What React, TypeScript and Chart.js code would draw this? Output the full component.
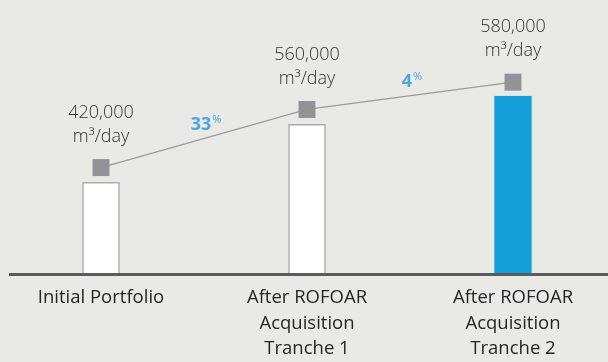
import React, { useEffect, useRef } from 'react';
import { Chart, registerables } from 'chart.js';

Chart.register(...registerables);

// ---- data ----
const categories: (string | string[])[] = [
  'Initial Portfolio',
  ['After ROFOAR', 'Acquisition', 'Tranche 1'],
  ['After ROFOAR', 'Acquisition', 'Tranche 2'],
];
const capacities = [420000, 560000, 580000];
const capacityUnit = 'm³/day';
// relative heights (stylised chart, no visible value axis; scale 0-100)
const barHeights = [33.2, 54.5, 64.8];
const markerHeights = [38.6, 59.9, 69.9];
const barColors = ['#ffffff', '#ffffff', '#159fd9'];
const barBorderColors = ['#acacac', '#acacac', '#159fd9'];

const FONT = '"Open Sans", "Noto Sans", sans-serif';

const overlayPlugin = {
  id: 'overlay',
  beforeDatasetsDraw(chart: any) {
    const { ctx, chartArea } = chart;
    ctx.save();
    ctx.fillStyle = '#5b5b5b';
    ctx.fillRect(11, chartArea.bottom, 620 - 11, 3);
    ctx.restore();
  },
  afterDatasetsDraw(chart: any) {
    const { ctx } = chart;
    const meta = chart.getDatasetMeta(1);
    const pts = meta.data;
    ctx.save();
    // value labels
    ctx.fillStyle = '#333333';
    ctx.textAlign = 'center';
    ctx.textBaseline = 'middle';
    ctx.font = `300 18px ${FONT}`;
    pts.forEach((p: any, i: number) => {
      ctx.fillText(capacityUnit, p.x, p.y - 31);
      ctx.fillText(capacities[i].toLocaleString('en-US'), p.x, p.y - 55);
    });
    // growth labels
    for (let i = 1; i < pts.length; i++) {
      const g = Math.round((capacities[i] / capacities[i - 1] - 1) * 100);
      const numTxt = String(g);
      const mx = (pts[i - 1].x + pts[i].x) / 2 + 2;
      const my = (pts[i - 1].y + pts[i].y) / 2 - 14;
      ctx.font = `bold 18px ${FONT}`;
      const w1 = ctx.measureText(numTxt).width;
      ctx.font = `11px ${FONT}`;
      const w2 = ctx.measureText('%').width;
      const x0 = mx - (w1 + w2 + 1) / 2;
      ctx.fillStyle = '#4ba6e0';
      ctx.textAlign = 'left';
      ctx.font = `bold 18px ${FONT}`;
      ctx.fillText(numTxt, x0, my);
      ctx.font = `11px ${FONT}`;
      ctx.fillText('%', x0 + w1 + 1, my - 5);
    }
    ctx.restore();
  },
};

export default function App() {
  const ref = useRef<HTMLCanvasElement | null>(null);
  useEffect(() => {
    if (!ref.current) return;
    const chart = new Chart(ref.current, {
      type: 'bar',
      data: {
        labels: categories as any,
        datasets: [
          {
            type: 'bar',
            data: barHeights,
            backgroundColor: barColors,
            borderColor: barBorderColors,
            borderWidth: { top: 1.5, left: 1.5, right: 1.5, bottom: 0 },
            borderSkipped: 'bottom',
            barThickness: 37,
            order: 1,
          },
          {
            type: 'line',
            data: markerHeights,
            borderColor: '#9b9b9f',
            borderWidth: 1.3,
            pointStyle: 'rect',
            pointRadius: 12,
            pointHoverRadius: 12,
            pointBackgroundColor: '#939397',
            pointBorderWidth: 0,
            order: 0,
          } as any,
        ],
      },
      options: {
        animation: false,
        responsive: false,
        devicePixelRatio: 1,
        layout: { autoPadding: false, padding: { left: 0, right: 2, top: 0, bottom: -12 } },
        plugins: { legend: { display: false }, tooltip: { enabled: false } },
        scales: {
          x: {
            offset: true,
            grid: { display: false, drawTicks: false, tickLength: 0 },
            border: { display: false },
            ticks: {
              color: '#262626',
              padding: 12.25,
              maxRotation: 0,
              autoSkip: false,
              font: { family: FONT, size: 18.5, lineHeight: '25.5px' as any },
            },
          },
          y: { display: false, min: 0, max: 100 },
        },
      },
      plugins: [overlayPlugin],
    });
    return () => chart.destroy();
  }, []);
  return (
    <div
      style={{
        position: 'fixed',
        left: 0,
        top: 0,
        width: 608,
        height: 362,
        background: '#e9e9e5',
        overflow: 'hidden',
      }}
    >
      <canvas ref={ref} width={620} height={362} style={{ display: 'block', marginLeft: -2 }} />
    </div>
  );
}
